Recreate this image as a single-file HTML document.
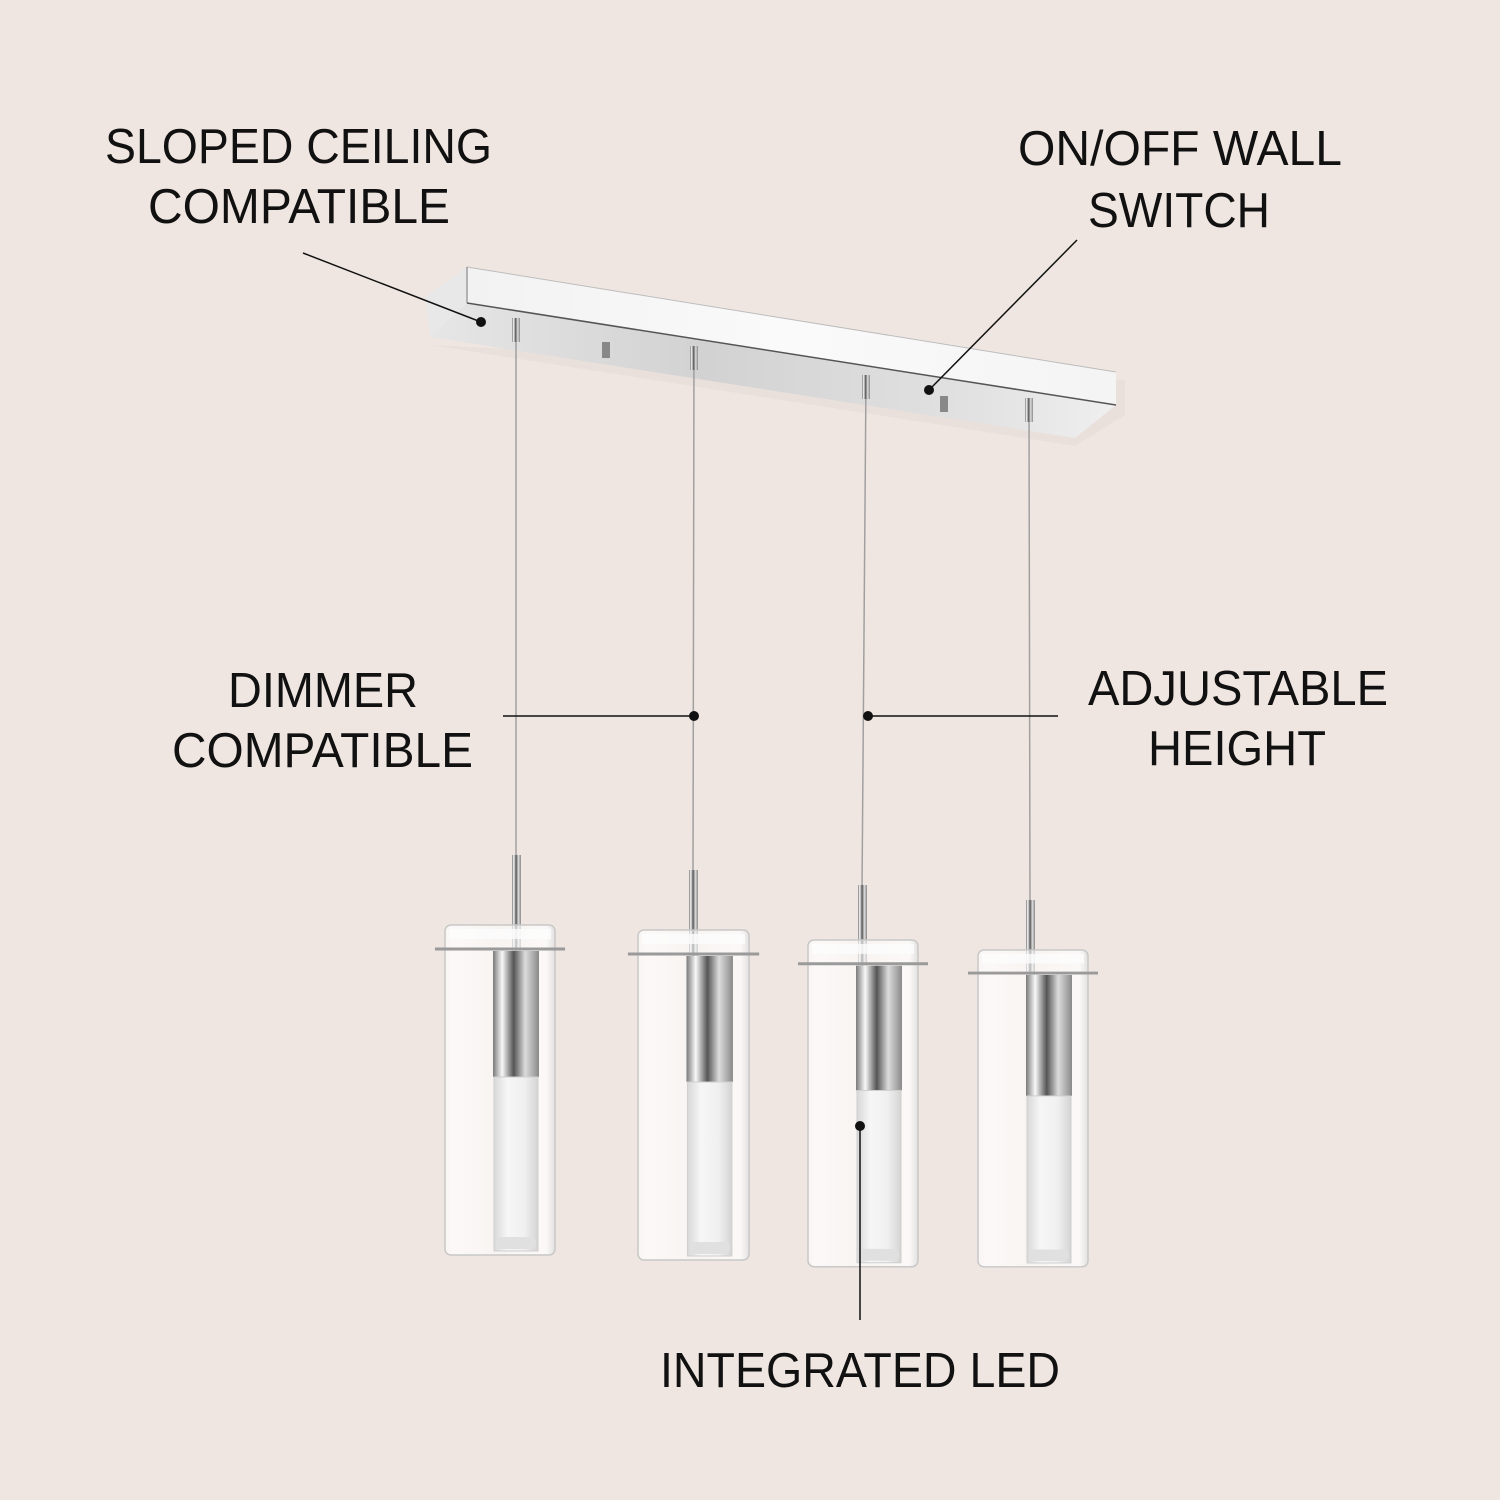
<!DOCTYPE html>
<html><head><meta charset="utf-8"><style>
html,body{margin:0;padding:0;background:#f0e6e1;}
svg{display:block}
text{font-family:"Liberation Sans",sans-serif;font-size:49px;fill:#111;}
</style></head><body>
<svg width="1500" height="1500" viewBox="0 0 1500 1500" xmlns="http://www.w3.org/2000/svg">
<defs>
<linearGradient id="top" x1="0" y1="0" x2="1" y2="0"><stop offset="0" stop-color="#f2f2f2"/><stop offset="0.5" stop-color="#fafafa"/><stop offset="1" stop-color="#f4f4f4"/></linearGradient>
<linearGradient id="bot" x1="0" y1="0" x2="1" y2="0"><stop offset="0" stop-color="#e6e6e6"/><stop offset="0.4" stop-color="#d2d2d2"/><stop offset="0.8" stop-color="#e2e2e2"/><stop offset="1" stop-color="#efefef"/></linearGradient>
<linearGradient id="chrome" x1="0" y1="0" x2="1" y2="0"><stop offset="0" stop-color="#7a7a7a"/><stop offset="0.2" stop-color="#f8f8f8"/><stop offset="0.45" stop-color="#555"/><stop offset="0.7" stop-color="#dcdcdc"/><stop offset="1" stop-color="#8a8a8a"/></linearGradient>
<linearGradient id="glass" x1="0" y1="0" x2="1" y2="0"><stop offset="0" stop-color="#ffffff" stop-opacity="0.6"/><stop offset="0.08" stop-color="#ffffff" stop-opacity="0.75"/><stop offset="0.5" stop-color="#ffffff" stop-opacity="0.55"/><stop offset="0.92" stop-color="#ffffff" stop-opacity="0.75"/><stop offset="1" stop-color="#e0e0e0" stop-opacity="0.8"/></linearGradient>
<linearGradient id="tube" x1="0" y1="0" x2="1" y2="0"><stop offset="0" stop-color="#d8d8d8"/><stop offset="0.3" stop-color="#f6f6f6"/><stop offset="0.7" stop-color="#f0f0f0"/><stop offset="1" stop-color="#d4d4d4"/></linearGradient>
<g id="pend">
<rect x="0" y="0" width="110" height="330" rx="6" fill="url(#glass)" stroke="#c8c8c8" stroke-width="1.5"/>
<rect x="4" y="4" width="102" height="10" fill="#fdfdfd" opacity="0.8"/>
<line x1="-10" y1="24" x2="120" y2="24" stroke="#9a9a9a" stroke-width="3"/>
<rect x="48" y="26" width="46" height="126" fill="url(#chrome)"/>
<rect x="49" y="152" width="44" height="174" fill="url(#tube)" stroke="#cfcfcf"/>
<rect x="51" y="312" width="40" height="12" rx="5" fill="#e0e0e0"/>
</g>
</defs>
<rect width="1500" height="1500" fill="#f0e6e1"/>
<polygon points="430,345 1075,446 1125,415 1125,380" fill="#e6dcd7" opacity="0.6"/>
<polygon points="425,297 467,267 467,303 430,337" fill="#e8e8e8"/>
<polygon points="467,303 1116,405 1075,438 430,337" fill="url(#bot)"/>
<polygon points="467,267 1116,372 1116,405 467,303" fill="url(#top)"/>
<line x1="467" y1="267" x2="1116" y2="372" stroke="#bdbdbd" stroke-width="1"/>
<line x1="467" y1="303" x2="1116" y2="405" stroke="#555" stroke-width="1.5"/>
<line x1="467" y1="267" x2="467" y2="303" stroke="#777" stroke-width="1"/>
<rect x="602" y="342" width="8" height="16" fill="#888"/>
<rect x="940" y="396" width="8" height="16" fill="#888"/>
<g stroke="#a0a0a0" stroke-width="1.5">
<line x1="516" y1="320" x2="516" y2="860"/>
<line x1="694" y1="348" x2="693" y2="875"/>
<line x1="866" y1="377" x2="862" y2="890"/>
<line x1="1029" y1="400" x2="1030" y2="905"/>
</g>
<g fill="url(#chrome)">
<rect x="512" y="318" width="8" height="24"/>
<rect x="690" y="346" width="8" height="24"/>
<rect x="862" y="375" width="8" height="24"/>
<rect x="1025" y="398" width="8" height="24"/>
<rect x="512" y="855" width="9" height="100"/>
<rect x="689" y="870" width="9" height="100"/>
<rect x="858" y="885" width="9" height="90"/>
<rect x="1026" y="900" width="9" height="80"/>
</g>
<use href="#pend" transform="translate(445,925)"/>
<use href="#pend" transform="translate(638,930) scale(1.01,1.0)"/>
<use href="#pend" transform="translate(808,940) scale(1,0.99)"/>
<use href="#pend" transform="translate(978,950) scale(1,0.96)"/>
<g stroke="#111" stroke-width="1.5">
<line x1="303" y1="253" x2="481" y2="322"/>
<line x1="1077" y1="240" x2="929" y2="390"/>
<line x1="503" y1="716" x2="694" y2="716"/>
<line x1="868" y1="716" x2="1058" y2="716"/>
<line x1="860" y1="1126" x2="860" y2="1320"/>
</g>
<g fill="#111">
<circle cx="481" cy="322" r="5"/>
<circle cx="929" cy="390" r="5"/>
<circle cx="694" cy="716" r="5"/>
<circle cx="868" cy="716" r="5"/>
<circle cx="860" cy="1126" r="5"/>
</g>
<text x="105" y="163" textLength="387" lengthAdjust="spacingAndGlyphs">SLOPED CEILING</text>
<text x="148" y="223" textLength="302" lengthAdjust="spacingAndGlyphs">COMPATIBLE</text>
<text x="1018" y="165" textLength="324" lengthAdjust="spacingAndGlyphs">ON/OFF WALL</text>
<text x="1088" y="227" textLength="182" lengthAdjust="spacingAndGlyphs">SWITCH</text>
<text x="228" y="707" textLength="190" lengthAdjust="spacingAndGlyphs">DIMMER</text>
<text x="172" y="767" textLength="301" lengthAdjust="spacingAndGlyphs">COMPATIBLE</text>
<text x="1088" y="705" textLength="300" lengthAdjust="spacingAndGlyphs">ADJUSTABLE</text>
<text x="1148" y="765" textLength="178" lengthAdjust="spacingAndGlyphs">HEIGHT</text>
<text x="660" y="1387" textLength="400" lengthAdjust="spacingAndGlyphs">INTEGRATED LED</text>
</svg>
</body></html>
